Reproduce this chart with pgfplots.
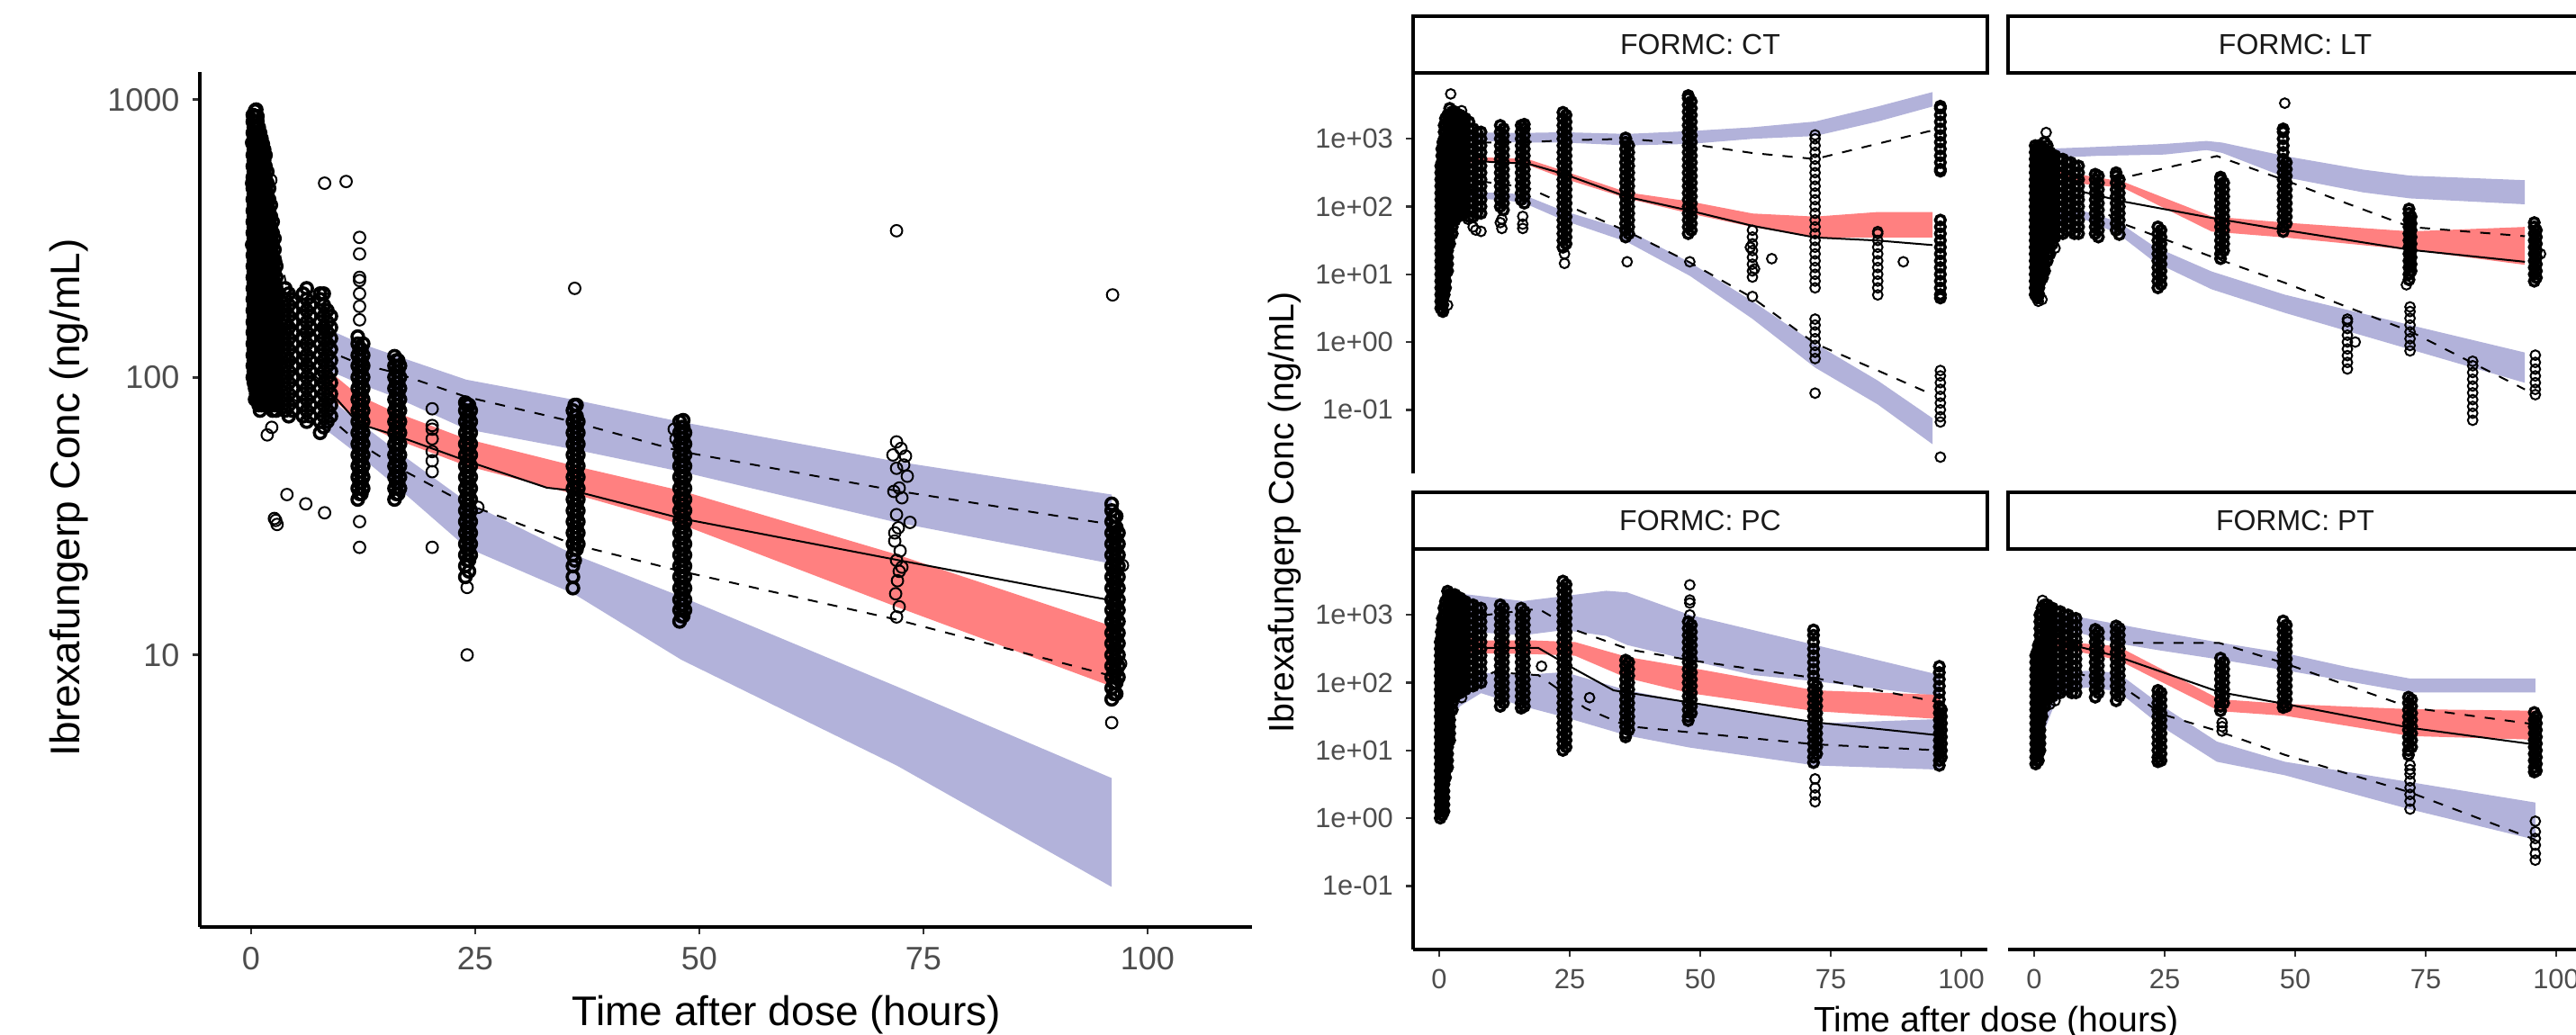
\documentclass[border=0pt]{standalone}
\usepackage{fontspec}
\setmainfont{Liberation Sans}
\usepackage{pgfplots}
\pgfplotsset{compat=1.18}

\definecolor{piband}{RGB}{178,178,218}
\definecolor{medband}{RGB}{255,128,128}
\definecolor{labgray}{RGB}{77,77,77}
\definecolor{tickgray}{RGB}{51,51,51}

\pgfplotsset{
  obsL/.style={only marks, mark=o, mark size=1.6pt, mark options={line width=0.5pt, draw=black}},
  obsLd/.style={only marks, mark=o, mark size=1.6pt, mark options={line width=0.9pt, draw=black}},
  obsR/.style={only marks, mark=o, mark size=1.35pt, mark options={line width=0.5pt, draw=black}},
  obsRd/.style={only marks, mark=o, mark size=1.35pt, mark options={line width=0.88pt, draw=black}},
  pib/.style={draw=none, fill=piband},
  mdb/.style={draw=none, fill=medband},
  med/.style={black, line width=0.5pt, no marks},
  pct/.style={black, line width=0.5pt, dash pattern=on 2.8pt off 2.8pt, no marks},
}

\begin{document}
\begin{tikzpicture}
\path[use as bounding box] (0,0) rectangle (715.5pt,287.25pt);
\fill[white] (0,0) rectangle (715.5pt,287.25pt);
\clip (0,0) rectangle (715.5pt,287.25pt);

% ---------------- left: all data ----------------
\begin{axis}[at={(55.5pt,29.75pt)}, anchor=south west, scale only axis,
  width=292.25pt, height=237.5pt,
  xmin=-5.72, xmax=111.65, ymode=log, ymin=1.047, ymax=1257,
  axis lines*=left, axis line style={line width=1.1pt, -},
  xtick={0,25,50,75,100}, xticklabels={0,25,50,75,100},
  ytick={10,100,1000}, yticklabels={10,100,1000},
  xminorticks=false, yminorticks=false,
  tick align=outside, major tick length=2.1pt,
  tick style={line width=0.7pt, draw=tickgray},
  tick label style={font=\fontsize{9}{9}\selectfont, text=labgray}]
\addplot[pib] coordinates {(8,152)(12,133)(16,120)(24,98)(36,83)(48,69)(72,49.7)(96,37.8)
  (96,21.3)(72,30)(48,45.7)(36,55)(24,65)(16,85)(12,95)(8,108)};
\addplot[pib] coordinates {(8,88)(12,69)(16,55)(24,35.7)(36,23)(48,16.2)(72,7.7)(96,3.6)
  (96,1.46)(72,4.0)(48,9.6)(36,16.6)(24,24.4)(16,41)(12,52.5)(8,66)};
\addplot[mdb] coordinates {(8,110)(12,86)(16,75)(24,60)(36,48)(48,39)(72,23)(96,12.7)
  (96,7.7)(72,14.9)(48,29.5)(36,38)(24,48)(16,60)(12,69)(8,90)};
% dense observation columns
\addplot[obsLd] coordinates {
(0.2,100)(0.2,110)(0.2,120)(0.2,132)(0.2,145)(0.2,158)(0.2,174)(0.2,191)(0.2,209)(0.2,229)(0.2,251)(0.2,275)(0.2,302)(0.2,331)(0.2,363)(0.2,398)(0.2,437)(0.2,479)(0.2,525)(0.2,575)(0.2,631)(0.2,692)(0.2,759)(0.2,832)(0.2,880)
(0.32,95.5)(0.32,105)(0.32,115)(0.32,126)(0.32,138)(0.32,151)(0.32,166)(0.32,182)(0.32,200)(0.32,219)(0.32,240)(0.32,263)(0.32,288)(0.32,316)(0.32,347)(0.32,380)(0.32,417)(0.32,457)(0.32,501)(0.32,550)(0.32,603)(0.32,661)(0.32,724)(0.32,794)(0.32,871)
(0.45,83.2)(0.45,91.2)(0.45,100)(0.45,110)(0.45,120)(0.45,132)(0.45,145)(0.45,158)(0.45,174)(0.45,191)(0.45,209)(0.45,229)(0.45,251)(0.45,275)(0.45,302)(0.45,331)(0.45,363)(0.45,398)(0.45,437)(0.45,479)(0.45,525)(0.45,575)(0.45,631)(0.45,692)(0.45,759)(0.45,832)(0.45,912)
(0.57,87.1)(0.57,95.5)(0.57,105)(0.57,115)(0.57,126)(0.57,138)(0.57,151)(0.57,166)(0.57,182)(0.57,200)(0.57,219)(0.57,240)(0.57,263)(0.57,288)(0.57,316)(0.57,347)(0.57,380)(0.57,417)(0.57,457)(0.57,501)(0.57,550)(0.57,603)(0.57,661)(0.57,724)(0.57,794)(0.57,871)(0.57,920)
(0.7,83.2)(0.7,91.2)(0.7,100)(0.7,110)(0.7,120)(0.7,132)(0.7,145)(0.7,158)(0.7,174)(0.7,191)(0.7,209)(0.7,229)(0.7,251)(0.7,275)(0.7,302)(0.7,331)(0.7,363)(0.7,398)(0.7,437)(0.7,479)(0.7,525)(0.7,575)(0.7,631)(0.7,692)(0.7,759)(0.7,832)(0.7,870)
(0.85,79.4)(0.85,87.1)(0.85,95.5)(0.85,105)(0.85,115)(0.85,126)(0.85,138)(0.85,151)(0.85,166)(0.85,182)(0.85,200)(0.85,219)(0.85,240)(0.85,263)(0.85,288)(0.85,316)(0.85,347)(0.85,380)(0.85,417)(0.85,457)(0.85,501)(0.85,550)(0.85,603)(0.85,661)(0.85,724)(0.85,794)
(1,75.9)(1,83.2)(1,91.2)(1,100)(1,110)(1,120)(1,132)(1,145)(1,158)(1,174)(1,191)(1,209)(1,229)(1,251)(1,275)(1,302)(1,331)(1,363)(1,398)(1,437)(1,479)(1,525)(1,575)(1,631)(1,692)(1,759)
(1.15,79.4)(1.15,87.1)(1.15,95.5)(1.15,105)(1.15,115)(1.15,126)(1.15,138)(1.15,151)(1.15,166)(1.15,182)(1.15,200)(1.15,219)(1.15,240)(1.15,263)(1.15,288)(1.15,316)(1.15,347)(1.15,380)(1.15,417)(1.15,457)(1.15,501)(1.15,550)(1.15,603)(1.15,661)(1.15,724)
(1.3,83.2)(1.3,91.2)(1.3,100)(1.3,110)(1.3,120)(1.3,132)(1.3,145)(1.3,158)(1.3,174)(1.3,191)(1.3,209)(1.3,229)(1.3,251)(1.3,275)(1.3,302)(1.3,331)(1.3,363)(1.3,398)(1.3,437)(1.3,479)(1.3,525)(1.3,575)(1.3,631)(1.3,692)
(1.45,79.4)(1.45,87.1)(1.45,95.5)(1.45,105)(1.45,115)(1.45,126)(1.45,138)(1.45,151)(1.45,166)(1.45,182)(1.45,200)(1.45,219)(1.45,240)(1.45,263)(1.45,288)(1.45,316)(1.45,347)(1.45,380)(1.45,417)(1.45,457)(1.45,501)(1.45,550)(1.45,603)(1.45,661)
(1.6,83.2)(1.6,91.2)(1.6,100)(1.6,110)(1.6,120)(1.6,132)(1.6,145)(1.6,158)(1.6,174)(1.6,191)(1.6,209)(1.6,229)(1.6,251)(1.6,275)(1.6,302)(1.6,331)(1.6,363)(1.6,398)(1.6,437)(1.6,479)(1.6,525)(1.6,575)(1.6,631)
(1.8,79.4)(1.8,87.1)(1.8,95.5)(1.8,105)(1.8,115)(1.8,126)(1.8,138)(1.8,151)(1.8,166)(1.8,182)(1.8,200)(1.8,219)(1.8,240)(1.8,263)(1.8,288)(1.8,316)(1.8,347)(1.8,380)(1.8,417)(1.8,457)(1.8,501)(1.8,550)
(2,83.2)(2,91.2)(2,100)(2,110)(2,120)(2,132)(2,145)(2,158)(2,174)(2,191)(2,209)(2,229)(2,251)(2,275)(2,302)(2,331)(2,363)(2,398)(2,437)(2,479)
(2.2,79.4)(2.2,87.1)(2.2,95.5)(2.2,105)(2.2,115)(2.2,126)(2.2,138)(2.2,151)(2.2,166)(2.2,182)(2.2,200)(2.2,219)(2.2,240)(2.2,263)(2.2,288)(2.2,316)(2.2,347)(2.2,380)(2.2,417)
(2.4,75.9)(2.4,83.2)(2.4,91.2)(2.4,100)(2.4,110)(2.4,120)(2.4,132)(2.4,145)(2.4,158)(2.4,174)(2.4,191)(2.4,209)(2.4,229)(2.4,251)(2.4,275)(2.4,302)(2.4,331)(2.4,363)
(2.6,79.4)(2.6,87.1)(2.6,95.5)(2.6,105)(2.6,115)(2.6,126)(2.6,138)(2.6,151)(2.6,166)(2.6,182)(2.6,200)(2.6,219)(2.6,240)(2.6,263)(2.6,288)(2.6,316)
(2.8,75.9)(2.8,83.2)(2.8,91.2)(2.8,100)(2.8,110)(2.8,120)(2.8,132)(2.8,145)(2.8,158)(2.8,174)(2.8,191)(2.8,209)(2.8,229)(2.8,251)
(3.1,79.4)(3.1,87.1)(3.1,95.5)(3.1,105)(3.1,115)(3.1,126)(3.1,138)(3.1,151)(3.1,166)(3.1,182)(3.1,200)
(3.8,75.9)(3.8,83.2)(3.8,91.2)(3.8,100)(3.8,110)(3.8,120)(3.8,132)(3.8,145)(3.8,158)(3.8,174)(3.8,191)(3.8,209)
(4.2,72.4)(4.2,79.4)(4.2,87.1)(4.2,95.5)(4.2,105)(4.2,115)(4.2,126)(4.2,138)(4.2,151)(4.2,166)(4.2,182)(4.2,200)
(4.6,75.9)(4.6,83.2)(4.6,91.2)(4.6,100)(4.6,110)(4.6,120)(4.6,132)(4.6,145)(4.6,158)(4.6,174)(4.6,191)
(5.8,72.4)(5.8,79.4)(5.8,87.1)(5.8,95.5)(5.8,105)(5.8,115)(5.8,126)(5.8,138)(5.8,151)(5.8,166)(5.8,182)(5.8,200)
(6.2,69.2)(6.2,75.9)(6.2,83.2)(6.2,91.2)(6.2,100)(6.2,110)(6.2,120)(6.2,132)(6.2,145)(6.2,158)(6.2,174)(6.2,191)(6.2,209)
(6.6,72.4)(6.6,79.4)(6.6,87.1)(6.6,95.5)(6.6,105)(6.6,115)(6.6,126)(6.6,138)(6.6,151)(6.6,166)(6.6,182)
(7.7,63.1)(7.7,69.2)(7.7,75.9)(7.7,83.2)(7.7,91.2)(7.7,100)(7.7,110)(7.7,120)(7.7,132)(7.7,145)(7.7,158)(7.7,174)(7.7,191)(7.7,200)
(8.1,66.1)(8.1,72.4)(8.1,79.4)(8.1,87.1)(8.1,95.5)(8.1,105)(8.1,115)(8.1,126)(8.1,138)(8.1,151)(8.1,166)(8.1,182)(8.1,200)
(8.5,69.2)(8.5,75.9)(8.5,83.2)(8.5,91.2)(8.5,100)(8.5,110)(8.5,120)(8.5,132)(8.5,145)(8.5,158)(8.5,174)
(8.9,72.4)(8.9,79.4)(8.9,87.1)(8.9,95.5)(8.9,105)(8.9,115)(8.9,126)(8.9,138)(8.9,151)(8.9,166)
(11.9,36.3)(11.9,39.8)(11.9,43.7)(11.9,47.9)(11.9,52.5)(11.9,57.5)(11.9,63.1)(11.9,69.2)(11.9,75.9)(11.9,83.2)(11.9,91.2)(11.9,100)(11.9,110)(11.9,120)(11.9,132)(11.9,140)
(12.1,38)(12.1,41.7)(12.1,45.7)(12.1,50.1)(12.1,55)(12.1,60.3)(12.1,66.1)(12.1,72.4)(12.1,79.4)(12.1,87.1)(12.1,95.5)(12.1,105)(12.1,115)(12.1,126)
(12.3,38)(12.3,41.7)(12.3,45.7)(12.3,50.1)(12.3,55)(12.3,60.3)(12.3,66.1)(12.3,72.4)(12.3,79.4)(12.3,87.1)(12.3,95.5)(12.3,105)(12.3,115)(12.3,126)
(12.5,39.8)(12.5,43.7)(12.5,47.9)(12.5,52.5)(12.5,57.5)(12.5,63.1)(12.5,69.2)(12.5,75.9)(12.5,83.2)(12.5,91.2)(12.5,100)(12.5,110)(12.5,120)(12.5,132)
(16,36.3)(16,39.8)(16,43.7)(16,47.9)(16,52.5)(16,57.5)(16,63.1)(16,69.2)(16,75.9)(16,83.2)(16,91.2)(16,100)(16,110)(16,119)
(16.2,38)(16.2,41.7)(16.2,45.7)(16.2,50.1)(16.2,55)(16.2,60.3)(16.2,66.1)(16.2,72.4)(16.2,79.4)(16.2,87.1)(16.2,95.5)(16.2,105)(16.2,115)
(16.4,38)(16.4,41.7)(16.4,45.7)(16.4,50.1)(16.4,55)(16.4,60.3)(16.4,66.1)(16.4,72.4)(16.4,79.4)(16.4,87.1)(16.4,95.5)(16.4,105)(16.4,115)
(16.6,39.8)(16.6,43.7)(16.6,47.9)(16.6,52.5)(16.6,57.5)(16.6,63.1)(16.6,69.2)(16.6,75.9)(16.6,83.2)(16.6,91.2)(16.6,100)(16.6,110)
(23.9,19.1)(23.9,20.9)(23.9,22.9)(23.9,25.1)(23.9,27.5)(23.9,30.2)(23.9,33.1)(23.9,36.3)(23.9,39.8)(23.9,43.7)(23.9,47.9)(23.9,52.5)(23.9,57.5)(23.9,63.1)(23.9,69.2)(23.9,75.9)(23.9,81)
(24.1,21.9)(24.1,24)(24.1,26.3)(24.1,28.8)(24.1,31.6)(24.1,34.7)(24.1,38)(24.1,41.7)(24.1,45.7)(24.1,50.1)(24.1,55)(24.1,60.3)(24.1,66.1)(24.1,72.4)(24.1,79.4)
(24.3,20)(24.3,21.9)(24.3,24)(24.3,26.3)(24.3,28.8)(24.3,31.6)(24.3,34.7)(24.3,38)(24.3,41.7)(24.3,45.7)(24.3,50.1)(24.3,55)(24.3,60.3)(24.3,66.1)(24.3,72.4)(24.3,79.4)
(24.5,22.9)(24.5,25.1)(24.5,27.5)(24.5,30.2)(24.5,33.1)(24.5,36.3)(24.5,39.8)(24.5,43.7)(24.5,47.9)(24.5,52.5)(24.5,57.5)(24.5,63.1)(24.5,69.2)(24.5,75.9)
(35.9,17.4)(35.9,19.1)(35.9,20.9)(35.9,22.9)(35.9,25.1)(35.9,27.5)(35.9,30.2)(35.9,33.1)(35.9,36.3)(35.9,39.8)(35.9,43.7)(35.9,47.9)(35.9,52.5)(35.9,57.5)(35.9,63.1)(35.9,69.2)(35.9,75.9)
(36.1,21.9)(36.1,24)(36.1,26.3)(36.1,28.8)(36.1,31.6)(36.1,34.7)(36.1,38)(36.1,41.7)(36.1,45.7)(36.1,50.1)(36.1,55)(36.1,60.3)(36.1,66.1)(36.1,72.4)(36.1,79.4)
(36.3,24)(36.3,26.3)(36.3,28.8)(36.3,31.6)(36.3,34.7)(36.3,38)(36.3,41.7)(36.3,45.7)(36.3,50.1)(36.3,55)(36.3,60.3)(36.3,66.1)(36.3,72.4)(36.3,79.4)
(36.5,25.1)(36.5,27.5)(36.5,30.2)(36.5,33.1)(36.5,36.3)(36.5,39.8)(36.5,43.7)(36.5,47.9)(36.5,52.5)(36.5,57.5)(36.5,63.1)(36.5,69.2)
(47.8,13.2)(47.8,14.5)(47.8,15.8)(47.8,17.4)(47.8,19.1)(47.8,20.9)(47.8,22.9)(47.8,25.1)(47.8,27.5)(47.8,30.2)(47.8,33.1)(47.8,36.3)(47.8,39.8)(47.8,43.7)(47.8,47.9)(47.8,52.5)(47.8,57.5)(47.8,63.1)(47.8,69.2)
(48,13.8)(48,15.1)(48,16.6)(48,18.2)(48,20)(48,21.9)(48,24)(48,26.3)(48,28.8)(48,31.6)(48,34.7)(48,38)(48,41.7)(48,45.7)(48,50.1)(48,55)(48,60.3)(48,66.1)
(48.2,13.8)(48.2,15.1)(48.2,16.6)(48.2,18.2)(48.2,20)(48.2,21.9)(48.2,24)(48.2,26.3)(48.2,28.8)(48.2,31.6)(48.2,34.7)(48.2,38)(48.2,41.7)(48.2,45.7)(48.2,50.1)(48.2,55)(48.2,60.3)(48.2,66.1)(48.2,70)
(48.4,14.5)(48.4,15.8)(48.4,17.4)(48.4,19.1)(48.4,20.9)(48.4,22.9)(48.4,25.1)(48.4,27.5)(48.4,30.2)(48.4,33.1)(48.4,36.3)(48.4,39.8)(48.4,43.7)(48.4,47.9)(48.4,52.5)(48.4,57.5)(48.4,63.1)
(96,6.92)(96,7.59)(96,8.32)(96,9.12)(96,10)(96,11)(96,12)(96,13.2)(96,14.5)(96,15.8)(96,17.4)(96,19.1)(96,20.9)(96,22.9)(96,25.1)(96,27.5)(96,30.2)(96,33.1)(96,35)
(96.25,7.24)(96.25,7.94)(96.25,8.71)(96.25,9.55)(96.25,10.5)(96.25,11.5)(96.25,12.6)(96.25,13.8)(96.25,15.1)(96.25,16.6)(96.25,18.2)(96.25,20)(96.25,21.9)(96.25,24)(96.25,26.3)(96.25,28.8)(96.25,31.6)
(96.5,7.24)(96.5,7.94)(96.5,8.71)(96.5,9.55)(96.5,10.5)(96.5,11.5)(96.5,12.6)(96.5,13.8)(96.5,15.1)(96.5,16.6)(96.5,18.2)(96.5,20)(96.5,21.9)(96.5,24)(96.5,26.3)(96.5,28.8)(96.5,31.6)
(96.75,8.32)(96.75,9.12)(96.75,10)(96.75,11)(96.75,12)(96.75,13.2)(96.75,14.5)(96.75,15.8)(96.75,17.4)(96.75,19.1)(96.75,20.9)(96.75,22.9)(96.75,25.1)(96.75,27.5)};
% sparse observations
\addplot[obsL] coordinates {
(2.2,513)(1.8,62)(2.3,66)(8.2,500)(10.6,507)(4,37.8)(6.1,35)(8.2,32.5)(2.6,31)(2.9,29.5)(2.75,30.5)(0.05,300)(0.05,500)(0.05,700)
(12.1,319)(12.1,278)(12.1,229)(12.1,223)(12.1,200)(12.1,180)(12.1,161)(12.1,24.4)(12.1,30.2)
(20.2,77)(20.2,67)(20.2,65)(20.2,60)(20.2,54)(20.2,50)(20.2,45.7)(20.2,24.4)
(24.1,10)(24.1,17.5)(25.3,34)(36.1,209)(47.2,65)(47.4,60)
(72,58.5)(72.5,55.4)(71.6,52.5)(72.8,48.3)(72,47)(72.3,39.9)(71.7,38.8)(72.6,36.8)(72,32)(72.2,28.7)(71.8,25.7)(72.4,23.7)(72,21.9)(72.6,20.7)(72.1,18.5)(71.9,16.6)(72.3,14.9)(72,13.7)(72,337)(73,52)(73.2,44)(73.5,30)(72.3,20)(71.8,27.5)
(96,5.7)(97,9.3)(97.2,21)(96.1,198)};
\addplot[med] coordinates {(2,260)(3,180)(4,140)(6,110)(8,95)(12,68)(16,62)(24,50)(33,40)(36,39)(48,31)(72,22)(96,15.7)};
\addplot[pct] coordinates {(2,450)(3,300)(4,210)(6,175)(8,150)(10,119)(12,112)(16,104)(24,85)(36,69)(48,54)(72,39)(96,29.5)};
\addplot[pct] coordinates {(2,90)(4,85)(6,80)(8,75)(12,58)(16,48)(24,35)(36,25)(48,20)(72,13.4)(96,8.4)};
\end{axis}

\node[font=\fontsize{11.5}{12}\selectfont, rotate=90, anchor=base] at (22pt,149pt) {Ibrexafungerp Conc (ng/mL)};
\node[font=\fontsize{11.5}{12}\selectfont, anchor=base] at (218.5pt,2.5pt) {Time after dose (hours)};

% ---------------- FORMC: CT ----------------
\begin{axis}[at={(392.5pt,155.75pt)}, anchor=south west, scale only axis,
  width=159.5pt, height=111.25pt,
  xmin=-5, xmax=105, ymode=log, ymin=0.0115, ymax=9400,
  axis y line*=left, axis x line=none, axis line style={line width=0.85pt, -},
  xtick=\empty,
  ytick={0.1,1,10,100,1000}, yticklabels={1e-01,1e+00,1e+01,1e+02,1e+03},
  xminorticks=false, yminorticks=false,
  tick align=outside, major tick length=2pt,
  tick style={line width=0.6pt, draw=tickgray},
  tick label style={font=\fontsize{7.7}{8}\selectfont, text=labgray}]
\addplot[pib] coordinates {(0.5,1300)(2,1400)(5,1300)(8,1240)(12,1230)(16,1220)(24,1250)(36,1180)(48,1300)(60,1480)(72,1800)(84,3000)(94.5,4900)
  (94.5,3000)(84,1800)(72,1100)(60,1000)(48,840)(36,800)(24,880)(16,880)(12,900)(8,950)(5,900)(2,800)(0.5,600)};
\addplot[pib] coordinates {(0.5,40)(1,60)(2,130)(4,165)(8,160)(12,160)(16,150)(24,85)(36,45)(48,15)(60,4)(72,0.95)(84,0.27)(94.5,0.075)
  (94.5,0.031)(84,0.12)(72,0.42)(60,2.2)(48,9.5)(36,30)(24,62)(16,115)(12,125)(8,130)(4,130)(2,90)(1,25)(0.5,10)};
\addplot[mdb] coordinates {(1,600)(4,550)(8,530)(10,527)(17,500)(24,333)(36,162)(48,119)(60,79)(72,71)(84,83)(94.5,83)
  (94.5,35)(84,35)(72,35)(60,50)(48,79)(36,132)(24,258)(17,410)(10,454)(8,450)(4,450)(1,400)};
\addplot[obsRd] coordinates {
(0.3,3.16)(0.3,3.98)(0.3,5.01)(0.3,6.31)(0.3,7.94)(0.3,10)(0.3,12.6)(0.3,15.8)(0.3,20)(0.3,25.1)(0.3,31.6)(0.3,39.8)(0.3,50.1)(0.3,63.1)(0.3,79.4)(0.3,100)(0.3,126)(0.3,158)(0.3,200)(0.3,251)(0.3,316)(0.3,398)
(0.5,3.55)(0.5,4.47)(0.5,5.62)(0.5,7.08)(0.5,8.91)(0.5,11.2)(0.5,14.1)(0.5,17.8)(0.5,22.4)(0.5,28.2)(0.5,35.5)(0.5,44.7)(0.5,56.2)(0.5,70.8)(0.5,89.1)(0.5,112)(0.5,141)(0.5,178)(0.5,224)(0.5,282)(0.5,355)(0.5,447)(0.5,562)(0.5,708)
(0.7,2.82)(0.7,3.55)(0.7,4.47)(0.7,5.62)(0.7,7.08)(0.7,8.91)(0.7,11.2)(0.7,14.1)(0.7,17.8)(0.7,22.4)(0.7,28.2)(0.7,35.5)(0.7,44.7)(0.7,56.2)(0.7,70.8)(0.7,89.1)(0.7,112)(0.7,141)(0.7,178)(0.7,224)(0.7,282)(0.7,355)(0.7,447)(0.7,562)(0.7,708)(0.7,891)
(0.95,5.01)(0.95,6.31)(0.95,7.94)(0.95,10)(0.95,12.6)(0.95,15.8)(0.95,20)(0.95,25.1)(0.95,31.6)(0.95,39.8)(0.95,50.1)(0.95,63.1)(0.95,79.4)(0.95,100)(0.95,126)(0.95,158)(0.95,200)(0.95,251)(0.95,316)(0.95,398)(0.95,501)(0.95,631)(0.95,794)(0.95,1000)(0.95,1260)(0.95,1580)
(1.2,6.31)(1.2,7.94)(1.2,10)(1.2,12.6)(1.2,15.8)(1.2,20)(1.2,25.1)(1.2,31.6)(1.2,39.8)(1.2,50.1)(1.2,63.1)(1.2,79.4)(1.2,100)(1.2,126)(1.2,158)(1.2,200)(1.2,251)(1.2,316)(1.2,398)(1.2,501)(1.2,631)(1.2,794)(1.2,1000)(1.2,1260)(1.2,1580)(1.2,2000)
(1.6,11.2)(1.6,14.1)(1.6,17.8)(1.6,22.4)(1.6,28.2)(1.6,35.5)(1.6,44.7)(1.6,56.2)(1.6,70.8)(1.6,89.1)(1.6,112)(1.6,141)(1.6,178)(1.6,224)(1.6,282)(1.6,355)(1.6,447)(1.6,562)(1.6,708)(1.6,891)(1.6,1120)(1.6,1410)(1.6,1780)(1.6,2240)
(2,28.2)(2,35.5)(2,44.7)(2,56.2)(2,70.8)(2,89.1)(2,112)(2,141)(2,178)(2,224)(2,282)(2,355)(2,447)(2,562)(2,708)(2,891)(2,1120)(2,1410)(2,1780)(2,2240)(2,2820)
(2.5,39.8)(2.5,50.1)(2.5,63.1)(2.5,79.4)(2.5,100)(2.5,126)(2.5,158)(2.5,200)(2.5,251)(2.5,316)(2.5,398)(2.5,501)(2.5,631)(2.5,794)(2.5,1000)(2.5,1260)(2.5,1580)(2.5,2000)(2.5,2510)
(3,63.1)(3,79.4)(3,100)(3,126)(3,158)(3,200)(3,251)(3,316)(3,398)(3,501)(3,631)(3,794)(3,1000)(3,1260)(3,1580)(3,2000)(3,2510)
(3.5,70.8)(3.5,89.1)(3.5,112)(3.5,141)(3.5,178)(3.5,224)(3.5,282)(3.5,355)(3.5,447)(3.5,562)(3.5,708)(3.5,891)(3.5,1120)(3.5,1410)(3.5,1780)(3.5,2240)
(4,89.1)(4,112)(4,141)(4,178)(4,224)(4,282)(4,355)(4,447)(4,562)(4,708)(4,891)(4,1120)(4,1410)(4,1780)(4,2240)
(4.5,79.4)(4.5,100)(4.5,126)(4.5,158)(4.5,200)(4.5,251)(4.5,316)(4.5,398)(4.5,501)(4.5,631)(4.5,794)(4.5,1000)(4.5,1260)(4.5,1580)(4.5,2000)
(5,79.4)(5,100)(5,126)(5,158)(5,200)(5,251)(5,316)(5,398)(5,501)(5,631)(5,794)(5,1000)(5,1260)(5,1580)(5,2000)
(5.7,70.8)(5.7,89.1)(5.7,112)(5.7,141)(5.7,178)(5.7,224)(5.7,282)(5.7,355)(5.7,447)(5.7,562)(5.7,708)(5.7,891)(5.7,1120)(5.7,1410)(5.7,1780)
(6.5,70.8)(6.5,89.1)(6.5,112)(6.5,141)(6.5,178)(6.5,224)(6.5,282)(6.5,355)(6.5,447)(6.5,562)(6.5,708)(6.5,891)(6.5,1120)(6.5,1410)
(7.2,79.4)(7.2,100)(7.2,126)(7.2,158)(7.2,200)(7.2,251)(7.2,316)(7.2,398)(7.2,501)(7.2,631)(7.2,794)(7.2,1000)(7.2,1260)
(8,79.4)(8,100)(8,126)(8,158)(8,200)(8,251)(8,316)(8,398)(8,501)(8,631)(8,794)(8,1000)(8,1260)
(11.7,100)(11.7,126)(11.7,158)(11.7,200)(11.7,251)(11.7,316)(11.7,398)(11.7,501)(11.7,631)(11.7,794)(11.7,1000)(11.7,1260)(11.7,1580)
(12.3,89.1)(12.3,112)(12.3,141)(12.3,178)(12.3,224)(12.3,282)(12.3,355)(12.3,447)(12.3,562)(12.3,708)(12.3,891)(12.3,1120)(12.3,1410)
(15.7,126)(15.7,158)(15.7,200)(15.7,251)(15.7,316)(15.7,398)(15.7,501)(15.7,631)(15.7,794)(15.7,1000)(15.7,1260)(15.7,1580)
(16.3,112)(16.3,141)(16.3,178)(16.3,224)(16.3,282)(16.3,355)(16.3,447)(16.3,562)(16.3,708)(16.3,891)(16.3,1120)(16.3,1410)(16.3,1640)
(23.7,25.1)(23.7,31.6)(23.7,39.8)(23.7,50.1)(23.7,63.1)(23.7,79.4)(23.7,100)(23.7,126)(23.7,158)(23.7,200)(23.7,251)(23.7,316)(23.7,398)(23.7,501)(23.7,631)(23.7,794)(23.7,1000)(23.7,1260)(23.7,1580)(23.7,2000)(23.7,2460)
(24.3,28.2)(24.3,35.5)(24.3,44.7)(24.3,56.2)(24.3,70.8)(24.3,89.1)(24.3,112)(24.3,141)(24.3,178)(24.3,224)(24.3,282)(24.3,355)(24.3,447)(24.3,562)(24.3,708)(24.3,891)(24.3,1120)(24.3,1410)(24.3,1780)(24.3,2240)
(35.7,35.5)(35.7,44.7)(35.7,56.2)(35.7,70.8)(35.7,89.1)(35.7,112)(35.7,141)(35.7,178)(35.7,224)(35.7,282)(35.7,355)(35.7,447)(35.7,562)(35.7,708)(35.7,891)(35.7,1030)
(36.3,39.8)(36.3,50.1)(36.3,63.1)(36.3,79.4)(36.3,100)(36.3,126)(36.3,158)(36.3,200)(36.3,251)(36.3,316)(36.3,398)(36.3,501)(36.3,631)(36.3,794)
(47.7,39.8)(47.7,50.1)(47.7,63.1)(47.7,79.4)(47.7,100)(47.7,126)(47.7,158)(47.7,200)(47.7,251)(47.7,316)(47.7,398)(47.7,501)(47.7,631)(47.7,794)(47.7,1000)(47.7,1260)(47.7,1580)(47.7,2000)(47.7,2510)(47.7,3160)(47.7,3980)(47.7,4350)
(48.3,44.7)(48.3,56.2)(48.3,70.8)(48.3,89.1)(48.3,112)(48.3,141)(48.3,178)(48.3,224)(48.3,282)(48.3,355)(48.3,447)(48.3,562)(48.3,708)(48.3,891)(48.3,1120)(48.3,1410)(48.3,1780)(48.3,2240)(48.3,2820)(48.3,3550)
(96,355)(96,447)(96,562)(96,708)(96,891)(96,1120)(96,1410)(96,1780)(96,2240)(96,2820)(96,3030)(96,333)
(96,4.47)(96,5.01)(96,6.31)(96,7.94)(96,10)(96,12.6)(96,15.8)(96,20)(96,25.1)(96,31.6)(96,39.8)(96,50.1)(96,63.1)};
\addplot[obsR] coordinates {
(2.2,4600)(4.3,2600)(5.5,65)(6.5,50)(8,43)(7,45)(1.6,3.5)(0.5,2.96)
(12,65)(12,47.5)(11.7,58)(16,71.5)(16,47.5)(16,55)(24,14.5)(24,20)(36,15.3)(48,15.3)
(60,9.1)(60,11.2)(60,14.1)(60,17.8)(60,22.4)(60,28.2)(60,35.5)(60,44.7)(60,4.7)(63.7,17)(60.4,12)(59.6,25)
(72,6.31)(72,7.94)(72,10)(72,12.6)(72,15.8)(72,20)(72,25.1)(72,31.6)(72,39.8)(72,50.1)(72,63.1)(72,79.4)(72,100)(72,126)(72,158)(72,200)(72,251)(72,316)(72,398)(72,501)(72,631)(72,794)(72,1000)(72,1140)
(72,0.57)(72,0.708)(72,0.891)(72,1.12)(72,1.41)(72,1.78)(72,2.18)(72,0.176)
(84,4.96)(84,6.31)(84,7.94)(84,10)(84,12.6)(84,15.8)(84,20)(84,25.1)(84,31.6)(84,39.8)(84,42.7)(88.9,15.3)
(96,0.066)(96,0.079)(96,0.1)(96,0.126)(96,0.158)(96,0.2)(96,0.251)(96,0.316)(96,0.38)(96,0.02)};
\addplot[med] coordinates {(1,700)(2,650)(4,550)(8,470)(10,454)(17,430)(24,300)(36,139)(48,87)(60,52)(72,35)(84,31.5)(94.5,27)};
\addplot[pct] coordinates {(1,1500)(2,1400)(5,1000)(9,880)(18,900)(24,950)(36,1000)(48,840)(60,617)(72,503)(94.5,1333)};
\addplot[pct] coordinates {(1,50)(2,100)(5,160)(9,230)(17,190)(24,108)(36,43)(48,15)(60,4.5)(72,0.95)(84,0.38)(94.5,0.167)};
\end{axis}

% ---------------- FORMC: LT ----------------
\begin{axis}[at={(557.75pt,155.75pt)}, anchor=south west, scale only axis,
  width=159.5pt, height=111.25pt,
  xmin=-5, xmax=105, ymode=log, ymin=0.0115, ymax=9400,
  hide x axis, hide y axis]
\addplot[pib] coordinates {(0.5,600)(2,720)(4,720)(12,760)(25,840)(33,930)(36,880)(48,557)(63,351)(72,286)(94,245)
  (94,108)(72,132)(63,162)(48,272)(36,620)(33,683)(25,586)(12,560)(4,525)(2,480)(0.5,300)};
\addplot[pib] coordinates {(0.5,15)(2,50)(4,80)(9,88)(16,60)(23,25.7)(34,11)(48,5)(72,1.78)(94,0.7)
  (94,0.25)(72,0.78)(48,2.7)(34,6)(23,15.3)(16,40)(9,68)(4,55)(2,20)(0.5,3)};
\addplot[mdb] coordinates {(2,450)(8.4,300)(17,233)(34,71.5)(48,58)(72,43)(94,50)
  (94,13.8)(72,23)(48,35)(34,42.7)(17,190)(8.4,219)(2,300)};
\addplot[obsRd] coordinates {
(0.2,5.01)(0.2,6.31)(0.2,7.94)(0.2,10)(0.2,12.6)(0.2,15.8)(0.2,20)(0.2,25.1)(0.2,31.6)(0.2,39.8)(0.2,50.1)(0.2,63.1)(0.2,79.4)(0.2,100)(0.2,126)(0.2,158)(0.2,200)(0.2,251)(0.2,316)(0.2,398)(0.2,501)(0.2,631)(0.2,794)
(0.4,5.62)(0.4,7.08)(0.4,8.91)(0.4,11.2)(0.4,14.1)(0.4,17.8)(0.4,22.4)(0.4,28.2)(0.4,35.5)(0.4,44.7)(0.4,56.2)(0.4,70.8)(0.4,89.1)(0.4,112)(0.4,141)(0.4,178)(0.4,224)(0.4,282)(0.4,355)(0.4,447)(0.4,562)(0.4,708)
(0.6,4.47)(0.6,5.62)(0.6,7.08)(0.6,8.91)(0.6,11.2)(0.6,14.1)(0.6,17.8)(0.6,22.4)(0.6,28.2)(0.6,35.5)(0.6,44.7)(0.6,56.2)(0.6,70.8)(0.6,89.1)(0.6,112)(0.6,141)(0.6,178)(0.6,224)(0.6,282)(0.6,355)(0.6,447)(0.6,562)(0.6,708)
(0.9,5.01)(0.9,6.31)(0.9,7.94)(0.9,10)(0.9,12.6)(0.9,15.8)(0.9,20)(0.9,25.1)(0.9,31.6)(0.9,39.8)(0.9,50.1)(0.9,63.1)(0.9,79.4)(0.9,100)(0.9,126)(0.9,158)(0.9,200)(0.9,251)(0.9,316)(0.9,398)(0.9,501)(0.9,631)(0.9,794)
(1.2,7.94)(1.2,10)(1.2,12.6)(1.2,15.8)(1.2,20)(1.2,25.1)(1.2,31.6)(1.2,39.8)(1.2,50.1)(1.2,63.1)(1.2,79.4)(1.2,100)(1.2,126)(1.2,158)(1.2,200)(1.2,251)(1.2,316)(1.2,398)(1.2,501)(1.2,631)(1.2,794)
(1.6,8.91)(1.6,11.2)(1.6,14.1)(1.6,17.8)(1.6,22.4)(1.6,28.2)(1.6,35.5)(1.6,44.7)(1.6,56.2)(1.6,70.8)(1.6,89.1)(1.6,112)(1.6,141)(1.6,178)(1.6,224)(1.6,282)(1.6,355)(1.6,447)(1.6,562)(1.6,708)
(2,11.2)(2,14.1)(2,17.8)(2,22.4)(2,28.2)(2,35.5)(2,44.7)(2,56.2)(2,70.8)(2,89.1)(2,112)(2,141)(2,178)(2,224)(2,282)(2,355)(2,447)(2,562)(2,708)(2,891)
(2.5,15.8)(2.5,20)(2.5,25.1)(2.5,31.6)(2.5,39.8)(2.5,50.1)(2.5,63.1)(2.5,79.4)(2.5,100)(2.5,126)(2.5,158)(2.5,200)(2.5,251)(2.5,316)(2.5,398)(2.5,501)(2.5,631)(2.5,794)
(3,20)(3,25.1)(3,31.6)(3,39.8)(3,50.1)(3,63.1)(3,79.4)(3,100)(3,126)(3,158)(3,200)(3,251)(3,316)(3,398)(3,501)(3,631)
(3.5,28.2)(3.5,35.5)(3.5,44.7)(3.5,56.2)(3.5,70.8)(3.5,89.1)(3.5,112)(3.5,141)(3.5,178)(3.5,224)(3.5,282)(3.5,355)(3.5,447)(3.5,562)
(4,35.5)(4,44.7)(4,56.2)(4,70.8)(4,89.1)(4,112)(4,141)(4,178)(4,224)(4,282)(4,355)(4,447)(4,562)
(4.7,39.8)(4.7,50.1)(4.7,63.1)(4.7,79.4)(4.7,100)(4.7,126)(4.7,158)(4.7,200)(4.7,251)(4.7,316)(4.7,398)(4.7,501)
(5.5,39.8)(5.5,50.1)(5.5,63.1)(5.5,79.4)(5.5,100)(5.5,126)(5.5,158)(5.5,200)(5.5,251)(5.5,316)(5.5,398)(5.5,501)
(6.2,44.7)(6.2,56.2)(6.2,70.8)(6.2,89.1)(6.2,112)(6.2,141)(6.2,178)(6.2,224)(6.2,282)(6.2,355)(6.2,447)
(7,44.7)(7,56.2)(7,70.8)(7,89.1)(7,112)(7,141)(7,178)(7,224)(7,282)(7,355)(7,447)
(7.7,39.8)(7.7,50.1)(7.7,63.1)(7.7,79.4)(7.7,100)(7.7,126)(7.7,158)(7.7,200)(7.7,251)(7.7,316)(7.7,398)
(8.5,39.8)(8.5,50.1)(8.5,63.1)(8.5,79.4)(8.5,100)(8.5,126)(8.5,158)(8.5,200)(8.5,251)(8.5,316)(8.5,398)
(11.7,39.8)(11.7,50.1)(11.7,63.1)(11.7,79.4)(11.7,100)(11.7,126)(11.7,158)(11.7,200)(11.7,251)(11.7,300)
(12.3,35.5)(12.3,44.7)(12.3,56.2)(12.3,70.8)(12.3,89.1)(12.3,112)(12.3,141)(12.3,178)(12.3,224)(12.3,282)
(15.7,44.7)(15.7,56.2)(15.7,70.8)(15.7,89.1)(15.7,112)(15.7,141)(15.7,178)(15.7,224)(15.7,282)(15.7,316)
(16.3,38.6)(16.3,50.1)(16.3,63.1)(16.3,79.4)(16.3,100)(16.3,126)(16.3,158)(16.3,200)(16.3,251)
(23.7,6.31)(23.7,7.94)(23.7,10)(23.7,12.6)(23.7,15.8)(23.7,20)(23.7,25.1)(23.7,31.6)(23.7,39.8)(23.7,50.1)
(24.3,7.08)(24.3,8.91)(24.3,11.2)(24.3,14.1)(24.3,17.8)(24.3,22.4)(24.3,28.2)(24.3,35.5)(24.3,44.7)
(35.7,17)(35.7,20)(35.7,25.1)(35.7,31.6)(35.7,39.8)(35.7,50.1)(35.7,63.1)(35.7,79.4)(35.7,100)(35.7,126)(35.7,158)(35.7,200)(35.7,251)(35.7,272)
(36.3,22.4)(36.3,28.2)(36.3,35.5)(36.3,44.7)(36.3,56.2)(36.3,70.8)(36.3,89.1)(36.3,112)(36.3,141)(36.3,178)(36.3,224)
(47.7,42.7)(47.7,50.1)(47.7,63.1)(47.7,79.4)(47.7,100)(47.7,126)(47.7,158)(47.7,200)(47.7,251)(47.7,316)(47.7,398)(47.7,501)(47.7,631)(47.7,794)(47.7,1000)(47.7,1260)(47.7,1400)
(48.3,56.2)(48.3,70.8)(48.3,89.1)(48.3,112)(48.3,141)(48.3,178)(48.3,224)(48.3,282)(48.3,355)(48.3,447)
(71.8,8.3)(71.8,10)(71.8,12.6)(71.8,15.8)(71.8,20)(71.8,25.1)(71.8,31.6)(71.8,39.8)(71.8,50.1)(71.8,63.1)(71.8,79.4)(71.8,92)
(72.2,11.2)(72.2,14.1)(72.2,17.8)(72.2,22.4)(72.2,28.2)(72.2,35.5)(72.2,44.7)(72.2,56.2)(72.2,70.8)
(95.8,7.9)(95.8,10)(95.8,12.6)(95.8,15.8)(95.8,20)(95.8,25.1)(95.8,31.6)(95.8,39.8)(95.8,50.1)(95.8,58)
(96.2,8.91)(96.2,11.2)(96.2,14.1)(96.2,17.8)(96.2,22.4)(96.2,28.2)(96.2,35.5)(96.2,44.7)};
\addplot[obsR] coordinates {
(2.3,1240)(4,24.3)(1.5,4.24)(0.8,4)(48,3360)
(60,0.4)(60,0.5)(60,0.63)(60,0.79)(60,1)(60,1.26)(60,1.58)(60,2)(60,2.18)(61.5,1)
(72,0.74)(72,0.89)(72,1.12)(72,1.41)(72,1.78)(72,2.24)(72,2.82)(72,3.3)(71.3,7)
(84,0.07)(84,0.089)(84,0.112)(84,0.141)(84,0.178)(84,0.224)(84,0.282)(84,0.355)(84,0.447)(84,0.52)
(96,0.167)(96,0.2)(96,0.251)(96,0.316)(96,0.398)(96,0.5)(96,0.64)(97,20)};
\addplot[med] coordinates {(1,350)(2,300)(8.4,171)(17,119)(34,68)(48,45)(72,23)(94,15.3)};
\addplot[pct] coordinates {(1,600)(4,400)(9,250)(16.4,258)(35,557)(48,245)(72,50)(94,36.5)};
\addplot[pct] coordinates {(1,30)(4,100)(9,147)(16.4,58)(35,17)(48,7.5)(72,1.44)(94,0.2)};
\end{axis}

% ---------------- FORMC: PC ----------------
\begin{axis}[at={(392.5pt,23.5pt)}, anchor=south west, scale only axis,
  width=159.5pt, height=111.25pt,
  xmin=-5, xmax=105, ymode=log, ymin=0.0115, ymax=9400,
  axis lines*=left, axis line style={line width=0.85pt, -},
  xtick={0,25,50,75,100}, xticklabels={0,25,50,75,100},
  ytick={0.1,1,10,100,1000}, yticklabels={1e-01,1e+00,1e+01,1e+02,1e+03},
  xminorticks=false, yminorticks=false,
  tick align=outside, major tick length=2pt,
  tick style={line width=0.6pt, draw=tickgray},
  tick label style={font=\fontsize{7.7}{8}\selectfont, text=labgray}]
\addplot[pib] coordinates {(1,1000)(2,2150)(8,1900)(16,1600)(24,1900)(32,2270)(36,2150)(48,1000)(60,600)(72,360)(96,129)
  (96,63)(72,105)(60,130)(48,215)(36,360)(32,490)(24,600)(16,500)(8,550)(2,600)(1,300)};
\addplot[pib] coordinates {(0.5,10)(1,34)(2,63)(4,110)(8,140)(16,130)(24,143)(36,77)(48,51)(72,25)(96,29)
  (96,5.2)(72,6)(48,11)(36,16.6)(24,31)(16,45)(8,70)(4,45)(2,28)(1,12)(0.5,1.5)};
\addplot[mdb] coordinates {(2,500)(9,420)(18,420)(26,398)(36,240)(48,167)(72,77)(96,66)
  (96,29)(72,38)(48,70)(36,117)(26,250)(18,264)(9,270)(2,300)};
\addplot[obsRd] coordinates {
(0.2,1)(0.2,1.26)(0.2,1.58)(0.2,2)(0.2,2.51)(0.2,3.16)(0.2,3.98)(0.2,5.01)(0.2,6.31)(0.2,7.94)(0.2,10)(0.2,12.6)(0.2,15.8)(0.2,20)(0.2,25.1)(0.2,31.6)(0.2,39.8)(0.2,50.1)(0.2,63.1)(0.2,79.4)(0.2,100)(0.2,126)(0.2,158)(0.2,200)(0.2,251)(0.2,316)(0.2,398)
(0.4,1.12)(0.4,1.41)(0.4,1.78)(0.4,2.24)(0.4,2.82)(0.4,3.55)(0.4,4.47)(0.4,5.62)(0.4,7.08)(0.4,8.91)(0.4,11.2)(0.4,14.1)(0.4,17.8)(0.4,22.4)(0.4,28.2)(0.4,35.5)(0.4,44.7)(0.4,56.2)(0.4,70.8)(0.4,89.1)(0.4,112)(0.4,141)(0.4,178)(0.4,224)(0.4,282)(0.4,355)(0.4,447)(0.4,562)
(0.6,1.12)(0.6,1.41)(0.6,1.78)(0.6,2.24)(0.6,2.82)(0.6,3.55)(0.6,4.47)(0.6,5.62)(0.6,7.08)(0.6,8.91)(0.6,11.2)(0.6,14.1)(0.6,17.8)(0.6,22.4)(0.6,28.2)(0.6,35.5)(0.6,44.7)(0.6,56.2)(0.6,70.8)(0.6,89.1)(0.6,112)(0.6,141)(0.6,178)(0.6,224)(0.6,282)(0.6,355)(0.6,447)(0.6,562)(0.6,708)(0.6,891)
(0.9,1.26)(0.9,1.58)(0.9,2)(0.9,2.51)(0.9,3.16)(0.9,3.98)(0.9,5.01)(0.9,6.31)(0.9,7.94)(0.9,10)(0.9,12.6)(0.9,15.8)(0.9,20)(0.9,25.1)(0.9,31.6)(0.9,39.8)(0.9,50.1)(0.9,63.1)(0.9,79.4)(0.9,100)(0.9,126)(0.9,158)(0.9,200)(0.9,251)(0.9,316)(0.9,398)(0.9,501)(0.9,631)(0.9,794)(0.9,1000)(0.9,1260)
(1.2,3.98)(1.2,5.01)(1.2,6.31)(1.2,7.94)(1.2,10)(1.2,12.6)(1.2,15.8)(1.2,20)(1.2,25.1)(1.2,31.6)(1.2,39.8)(1.2,50.1)(1.2,63.1)(1.2,79.4)(1.2,100)(1.2,126)(1.2,158)(1.2,200)(1.2,251)(1.2,316)(1.2,398)(1.2,501)(1.2,631)(1.2,794)(1.2,1000)(1.2,1260)(1.2,1580)
(1.6,5.62)(1.6,7.08)(1.6,8.91)(1.6,11.2)(1.6,14.1)(1.6,17.8)(1.6,22.4)(1.6,28.2)(1.6,35.5)(1.6,44.7)(1.6,56.2)(1.6,70.8)(1.6,89.1)(1.6,112)(1.6,141)(1.6,178)(1.6,224)(1.6,282)(1.6,355)(1.6,447)(1.6,562)(1.6,708)(1.6,891)(1.6,1120)(1.6,1410)(1.6,1780)(1.6,2240)
(2,14.1)(2,17.8)(2,22.4)(2,28.2)(2,35.5)(2,44.7)(2,56.2)(2,70.8)(2,89.1)(2,112)(2,141)(2,178)(2,224)(2,282)(2,355)(2,447)(2,562)(2,708)(2,891)(2,1120)(2,1410)(2,1780)(2,2040)
(2.5,39.8)(2.5,50.1)(2.5,63.1)(2.5,79.4)(2.5,100)(2.5,126)(2.5,158)(2.5,200)(2.5,251)(2.5,316)(2.5,398)(2.5,501)(2.5,631)(2.5,794)(2.5,1000)(2.5,1260)(2.5,1580)(2.5,2000)
(3,63.1)(3,79.4)(3,100)(3,126)(3,158)(3,200)(3,251)(3,316)(3,398)(3,501)(3,631)(3,794)(3,1000)(3,1260)(3,1580)(3,2000)
(3.5,70.8)(3.5,89.1)(3.5,112)(3.5,141)(3.5,178)(3.5,224)(3.5,282)(3.5,355)(3.5,447)(3.5,562)(3.5,708)(3.5,891)(3.5,1120)(3.5,1410)(3.5,1780)
(4,70.8)(4,89.1)(4,112)(4,141)(4,178)(4,224)(4,282)(4,355)(4,447)(4,562)(4,708)(4,891)(4,1120)(4,1410)(4,1780)
(4.5,79.4)(4.5,100)(4.5,126)(4.5,158)(4.5,200)(4.5,251)(4.5,316)(4.5,398)(4.5,501)(4.5,631)(4.5,794)(4.5,1000)(4.5,1260)(4.5,1580)
(5,79.4)(5,100)(5,126)(5,158)(5,200)(5,251)(5,316)(5,398)(5,501)(5,631)(5,794)(5,1000)(5,1260)(5,1580)
(5.7,89.1)(5.7,112)(5.7,141)(5.7,178)(5.7,224)(5.7,282)(5.7,355)(5.7,447)(5.7,562)(5.7,708)(5.7,891)(5.7,1120)(5.7,1410)
(6.5,89.1)(6.5,112)(6.5,141)(6.5,178)(6.5,224)(6.5,282)(6.5,355)(6.5,447)(6.5,562)(6.5,708)(6.5,891)(6.5,1120)(6.5,1410)
(7.2,100)(7.2,126)(7.2,158)(7.2,200)(7.2,251)(7.2,316)(7.2,398)(7.2,501)(7.2,631)(7.2,794)(7.2,1000)(7.2,1260)
(8,100)(8,126)(8,158)(8,200)(8,251)(8,316)(8,398)(8,501)(8,631)(8,794)(8,1000)(8,1260)
(11.7,44.7)(11.7,56.2)(11.7,70.8)(11.7,89.1)(11.7,112)(11.7,141)(11.7,178)(11.7,224)(11.7,282)(11.7,355)(11.7,447)(11.7,562)(11.7,708)(11.7,891)(11.7,1120)(11.7,1410)
(12.3,50.1)(12.3,63.1)(12.3,79.4)(12.3,100)(12.3,126)(12.3,158)(12.3,200)(12.3,251)(12.3,316)(12.3,398)(12.3,501)(12.3,631)(12.3,794)(12.3,1000)(12.3,1260)
(15.7,42)(15.7,50.1)(15.7,63.1)(15.7,79.4)(15.7,100)(15.7,126)(15.7,158)(15.7,200)(15.7,251)(15.7,316)(15.7,398)(15.7,501)(15.7,631)(15.7,794)(15.7,1000)(15.7,1260)
(16.3,44.7)(16.3,56.2)(16.3,70.8)(16.3,89.1)(16.3,112)(16.3,141)(16.3,178)(16.3,224)(16.3,282)(16.3,355)(16.3,447)(16.3,562)(16.3,708)(16.3,891)(16.3,1120)
(23.7,10)(23.7,12.6)(23.7,15.8)(23.7,20)(23.7,25.1)(23.7,31.6)(23.7,39.8)(23.7,50.1)(23.7,63.1)(23.7,79.4)(23.7,100)(23.7,126)(23.7,158)(23.7,200)(23.7,251)(23.7,316)(23.7,398)(23.7,501)(23.7,631)(23.7,794)(23.7,1000)(23.7,1260)(23.7,1580)(23.7,2000)(23.7,2510)(23.7,3160)
(24.3,11.2)(24.3,14.1)(24.3,17.8)(24.3,22.4)(24.3,28.2)(24.3,35.5)(24.3,44.7)(24.3,56.2)(24.3,70.8)(24.3,89.1)(24.3,112)(24.3,141)(24.3,178)(24.3,224)(24.3,282)(24.3,355)(24.3,447)(24.3,562)(24.3,708)(24.3,891)(24.3,1120)(24.3,1410)(24.3,1780)(24.3,2240)(24.3,2820)
(35.7,15.8)(35.7,17.8)(35.7,22.4)(35.7,28.2)(35.7,35.5)(35.7,44.7)(35.7,56.2)(35.7,70.8)(35.7,89.1)(35.7,112)(35.7,141)(35.7,178)(35.7,215)
(36.3,20)(36.3,25.1)(36.3,31.6)(36.3,39.8)(36.3,50.1)(36.3,63.1)(36.3,79.4)(36.3,100)(36.3,126)(36.3,158)(36.3,200)
(47.7,27.6)(47.7,31.6)(47.7,39.8)(47.7,50.1)(47.7,63.1)(47.7,79.4)(47.7,100)(47.7,126)(47.7,158)(47.7,200)(47.7,251)(47.7,316)(47.7,398)(47.7,501)(47.7,631)(47.7,794)
(48.3,35.5)(48.3,44.7)(48.3,56.2)(48.3,70.8)(48.3,89.1)(48.3,112)(48.3,141)(48.3,178)(48.3,224)(48.3,282)(48.3,355)(48.3,447)(48.3,562)(48.3,708)
(71.7,6.6)(71.7,7.94)(71.7,10)(71.7,12.6)(71.7,15.8)(71.7,20)(71.7,25.1)(71.7,31.6)(71.7,39.8)(71.7,50.1)(71.7,63.1)(71.7,79.4)(71.7,100)(71.7,126)(71.7,158)(71.7,200)(71.7,251)(71.7,316)(71.7,398)(71.7,501)(71.7,600)
(72.3,8.91)(72.3,11.2)(72.3,14.1)(72.3,17.8)(72.3,22.4)(72.3,28.2)(72.3,35.5)(72.3,44.7)(72.3,56.2)(72.3,70.8)(72.3,89.1)
(95.8,6)(95.8,7.08)(95.8,8.91)(95.8,11.2)(95.8,14.1)(95.8,17.8)(95.8,22.4)(95.8,28.2)(95.8,35.5)(95.8,44.7)(95.8,56.2)(95.8,70.8)(95.8,89.1)(95.8,112)(95.8,141)(95.8,174)
(96.2,7.94)(96.2,10)(96.2,12.6)(96.2,15.8)(96.2,20)(96.2,25.1)(96.2,31.6)(96.2,39.8)};
\addplot[obsR] coordinates {
(4.3,60)(19.6,175)(28.8,60)(48,1000)(48,1500)(48,1660)(48,2780)(72,1.74)(72,2.2)(72,2.8)(72,3.8)};
\addplot[med] coordinates {(1,400)(2,450)(9,325)(19,325)(26,158)(33.4,77)(48,51)(72,26)(96,16.6)};
\addplot[pct] coordinates {(1,1200)(2,1000)(9,1000)(19,1230)(26,600)(36.5,308)(48,215)(72,117)(96,51)};
\addplot[pct] coordinates {(1,20)(2,60)(10.4,143)(19,129)(28,42)(36,22.8)(48,18.5)(72,12.3)(96,10)};
\end{axis}

% ---------------- FORMC: PT ----------------
\begin{axis}[at={(557.75pt,23.5pt)}, anchor=south west, scale only axis,
  width=159.5pt, height=111.25pt,
  xmin=-5, xmax=105, ymode=log, ymin=0.0115, ymax=9400,
  axis x line*=bottom, hide y axis, axis line style={line width=0.85pt, -},
  xtick={0,25,50,75,100}, xticklabels={0,25,50,75,100},
  xminorticks=false, yminorticks=false,
  tick align=outside, major tick length=2pt,
  tick style={line width=0.6pt, draw=tickgray},
  tick label style={font=\fontsize{7.7}{8}\selectfont, text=labgray}]
\addplot[pib] coordinates {(1,900)(4,1090)(8,950)(16,730)(24,560)(36,385)(48,273)(60,170)(72,115)(96,115)
  (96,72)(72,72)(60,105)(48,153)(36,217)(24,300)(16,380)(8,560)(4,620)(1,300)};
\addplot[pib] coordinates {(1,25)(2,60)(4,110)(6,140)(10,150)(16,140)(24.6,45)(35,13.5)(48,6.8)(72,3.4)(96,1.7)
  (96,0.48)(72,1.35)(48,4.3)(35,6.8)(24.6,22)(16,75)(10,85)(6,75)(4,50)(2,20)(1,8)};
\addplot[mdb] coordinates {(2,500)(8.2,385)(16,345)(35.5,57)(48,48.6)(72,40.6)(96,38.5)
  (96,14.4)(72,16.3)(48,32.5)(35.5,38)(16,217)(8.2,289)(2,350)};
\addplot[obsRd] coordinates {
(0.3,6.31)(0.3,7.94)(0.3,10)(0.3,12.6)(0.3,15.8)(0.3,20)(0.3,25.1)(0.3,31.6)(0.3,39.8)(0.3,50.1)(0.3,63.1)(0.3,79.4)(0.3,100)(0.3,126)(0.3,158)(0.3,200)(0.3,251)
(0.55,7.08)(0.55,8.91)(0.55,11.2)(0.55,14.1)(0.55,17.8)(0.55,22.4)(0.55,28.2)(0.55,35.5)(0.55,44.7)(0.55,56.2)(0.55,70.8)(0.55,89.1)(0.55,112)(0.55,141)(0.55,178)(0.55,224)(0.55,282)
(0.8,7.08)(0.8,8.91)(0.8,11.2)(0.8,14.1)(0.8,17.8)(0.8,22.4)(0.8,28.2)(0.8,35.5)(0.8,44.7)(0.8,56.2)(0.8,70.8)(0.8,89.1)(0.8,112)(0.8,141)(0.8,178)(0.8,224)(0.8,282)(0.8,355)
(1.1,10)(1.1,12.6)(1.1,15.8)(1.1,20)(1.1,25.1)(1.1,31.6)(1.1,39.8)(1.1,50.1)(1.1,63.1)(1.1,79.4)(1.1,100)(1.1,126)(1.1,158)(1.1,200)(1.1,251)(1.1,316)(1.1,398)(1.1,501)(1.1,631)(1.1,794)(1.1,1000)
(1.5,31.6)(1.5,39.8)(1.5,50.1)(1.5,63.1)(1.5,79.4)(1.5,100)(1.5,126)(1.5,158)(1.5,200)(1.5,251)(1.5,316)(1.5,398)(1.5,501)(1.5,631)(1.5,794)(1.5,1000)(1.5,1260)
(2,44.7)(2,56.2)(2,70.8)(2,89.1)(2,112)(2,141)(2,178)(2,224)(2,282)(2,355)(2,447)(2,562)(2,708)(2,891)(2,1120)(2,1410)
(2.5,56.2)(2.5,70.8)(2.5,89.1)(2.5,112)(2.5,141)(2.5,178)(2.5,224)(2.5,282)(2.5,355)(2.5,447)(2.5,562)(2.5,708)(2.5,891)(2.5,1120)(2.5,1410)
(3,63.1)(3,79.4)(3,100)(3,126)(3,158)(3,200)(3,251)(3,316)(3,398)(3,501)(3,631)(3,794)(3,1000)(3,1260)
(3.5,63.1)(3.5,79.4)(3.5,100)(3.5,126)(3.5,158)(3.5,200)(3.5,251)(3.5,316)(3.5,398)(3.5,501)(3.5,631)(3.5,794)(3.5,1000)(3.5,1260)
(4.2,70.8)(4.2,89.1)(4.2,112)(4.2,141)(4.2,178)(4.2,224)(4.2,282)(4.2,355)(4.2,447)(4.2,562)(4.2,708)(4.2,891)(4.2,1120)
(5,70.8)(5,89.1)(5,112)(5,141)(5,178)(5,224)(5,282)(5,355)(5,447)(5,562)(5,708)(5,891)(5,1120)
(5.7,79.4)(5.7,100)(5.7,126)(5.7,158)(5.7,200)(5.7,251)(5.7,316)(5.7,398)(5.7,501)(5.7,631)(5.7,794)(5.7,1000)
(6.5,79.4)(6.5,100)(6.5,126)(6.5,158)(6.5,200)(6.5,251)(6.5,316)(6.5,398)(6.5,501)(6.5,631)(6.5,794)(6.5,1000)
(7.2,70.8)(7.2,89.1)(7.2,112)(7.2,141)(7.2,178)(7.2,224)(7.2,282)(7.2,355)(7.2,447)(7.2,562)(7.2,708)(7.2,891)
(8,70.8)(8,89.1)(8,112)(8,141)(8,178)(8,224)(8,282)(8,355)(8,447)(8,562)(8,708)(8,891)
(11.7,61)(11.7,79.4)(11.7,100)(11.7,126)(11.7,158)(11.7,200)(11.7,251)(11.7,316)(11.7,398)(11.7,501)(11.7,612)
(12.3,70.8)(12.3,89.1)(12.3,112)(12.3,141)(12.3,178)(12.3,224)(12.3,282)(12.3,355)(12.3,447)(12.3,562)
(15.7,54)(15.7,70.8)(15.7,89.1)(15.7,112)(15.7,141)(15.7,178)(15.7,224)(15.7,282)(15.7,355)(15.7,447)(15.7,562)(15.7,687)
(16.3,63.1)(16.3,79.4)(16.3,100)(16.3,126)(16.3,158)(16.3,200)(16.3,251)(16.3,316)(16.3,398)(16.3,501)(16.3,631)
(23.7,6.8)(23.7,7.94)(23.7,10)(23.7,12.6)(23.7,15.8)(23.7,20)(23.7,25.1)(23.7,31.6)(23.7,39.8)(23.7,50.1)(23.7,63.1)(23.7,77)
(24.3,7.08)(24.3,8.91)(24.3,11.2)(24.3,14.1)(24.3,17.8)(24.3,22.4)(24.3,28.2)(24.3,35.5)(24.3,44.7)(24.3,56.2)(24.3,70.8)
(35.7,38.5)(35.7,44.7)(35.7,56.2)(35.7,70.8)(35.7,89.1)(35.7,112)(35.7,141)(35.7,178)(35.7,230)
(36.3,50.1)(36.3,63.1)(36.3,79.4)(36.3,100)(36.3,126)(36.3,158)(36.3,200)
(47.7,43)(47.7,50.1)(47.7,63.1)(47.7,79.4)(47.7,100)(47.7,126)(47.7,158)(47.7,200)(47.7,251)(47.7,316)(47.7,398)(47.7,501)(47.7,631)(47.7,815)
(48.3,44.7)(48.3,56.2)(48.3,70.8)(48.3,89.1)(48.3,112)(48.3,141)(48.3,178)(48.3,224)(48.3,282)(48.3,355)(48.3,447)(48.3,562)(48.3,708)
(71.7,8.6)(71.7,10)(71.7,12.6)(71.7,15.8)(71.7,20)(71.7,25.1)(71.7,31.6)(71.7,39.8)(71.7,50.1)(71.7,61)
(72.3,11.2)(72.3,14.1)(72.3,17.8)(72.3,22.4)(72.3,28.2)(72.3,35.5)(72.3,44.7)(72.3,56.2)
(95.8,4.8)(95.8,5.62)(95.8,7.08)(95.8,8.91)(95.8,11.2)(95.8,14.1)(95.8,17.8)(95.8,22.4)(95.8,28.2)(95.8,36.3)
(96.2,5.01)(96.2,6.31)(96.2,7.94)(96.2,10)(96.2,12.6)(96.2,15.8)(96.2,20)(96.2,25.1)(96.2,31.6)};
\addplot[obsR] coordinates {
(1.6,1640)(3,48)(4,54)(36,19.3)(36,22.4)(36,25.7)
(72,1.36)(72,1.78)(72,2.24)(72,2.82)(72,3.55)(72,4.47)(72,5.2)(72,6.1)
(96,0.24)(96,0.3)(96,0.4)(96,0.5)(96,0.63)(96,0.9)};
\addplot[med] coordinates {(1,500)(2,480)(8.2,345)(16,243)(35.5,72.6)(48,48.6)(72,21.6)(96,12.2)};
\addplot[pct] coordinates {(1,900)(4,600)(8.2,400)(16,385)(35.5,385)(48,193)(72,43)(96,24.2)};
\addplot[pct] coordinates {(1,30)(4,100)(8.2,137)(16,97)(24.6,34)(35.5,19)(48,8.6)(72,2.4)(96,0.48)};
\end{axis}

% strips
\begin{scope}[line width=0.9pt]
\draw[fill=white] (392.5pt,267pt) rectangle (552pt,282.75pt);
\draw[fill=white] (557.75pt,267pt) rectangle (717.25pt,282.75pt);
\draw[fill=white] (392.5pt,134.75pt) rectangle (552pt,150.5pt);
\draw[fill=white] (557.75pt,134.75pt) rectangle (717.25pt,150.5pt);
\end{scope}
\begin{scope}[every node/.style={font=\fontsize{8}{8}\selectfont, text=black!90}]
\node at (472.25pt,274.9pt) {FORMC: CT};
\node at (637.5pt,274.9pt) {FORMC: LT};
\node at (472.25pt,142.6pt) {FORMC: PC};
\node at (637.5pt,142.6pt) {FORMC: PT};
\end{scope}

\node[font=\fontsize{9.8}{10}\selectfont, rotate=90, anchor=base] at (359.25pt,144.9pt) {Ibrexafungerp Conc (ng/mL)};
\node[font=\fontsize{9.8}{10}\selectfont, anchor=base] at (554.5pt,0.75pt) {Time after dose (hours)};
\end{tikzpicture}
\end{document}
